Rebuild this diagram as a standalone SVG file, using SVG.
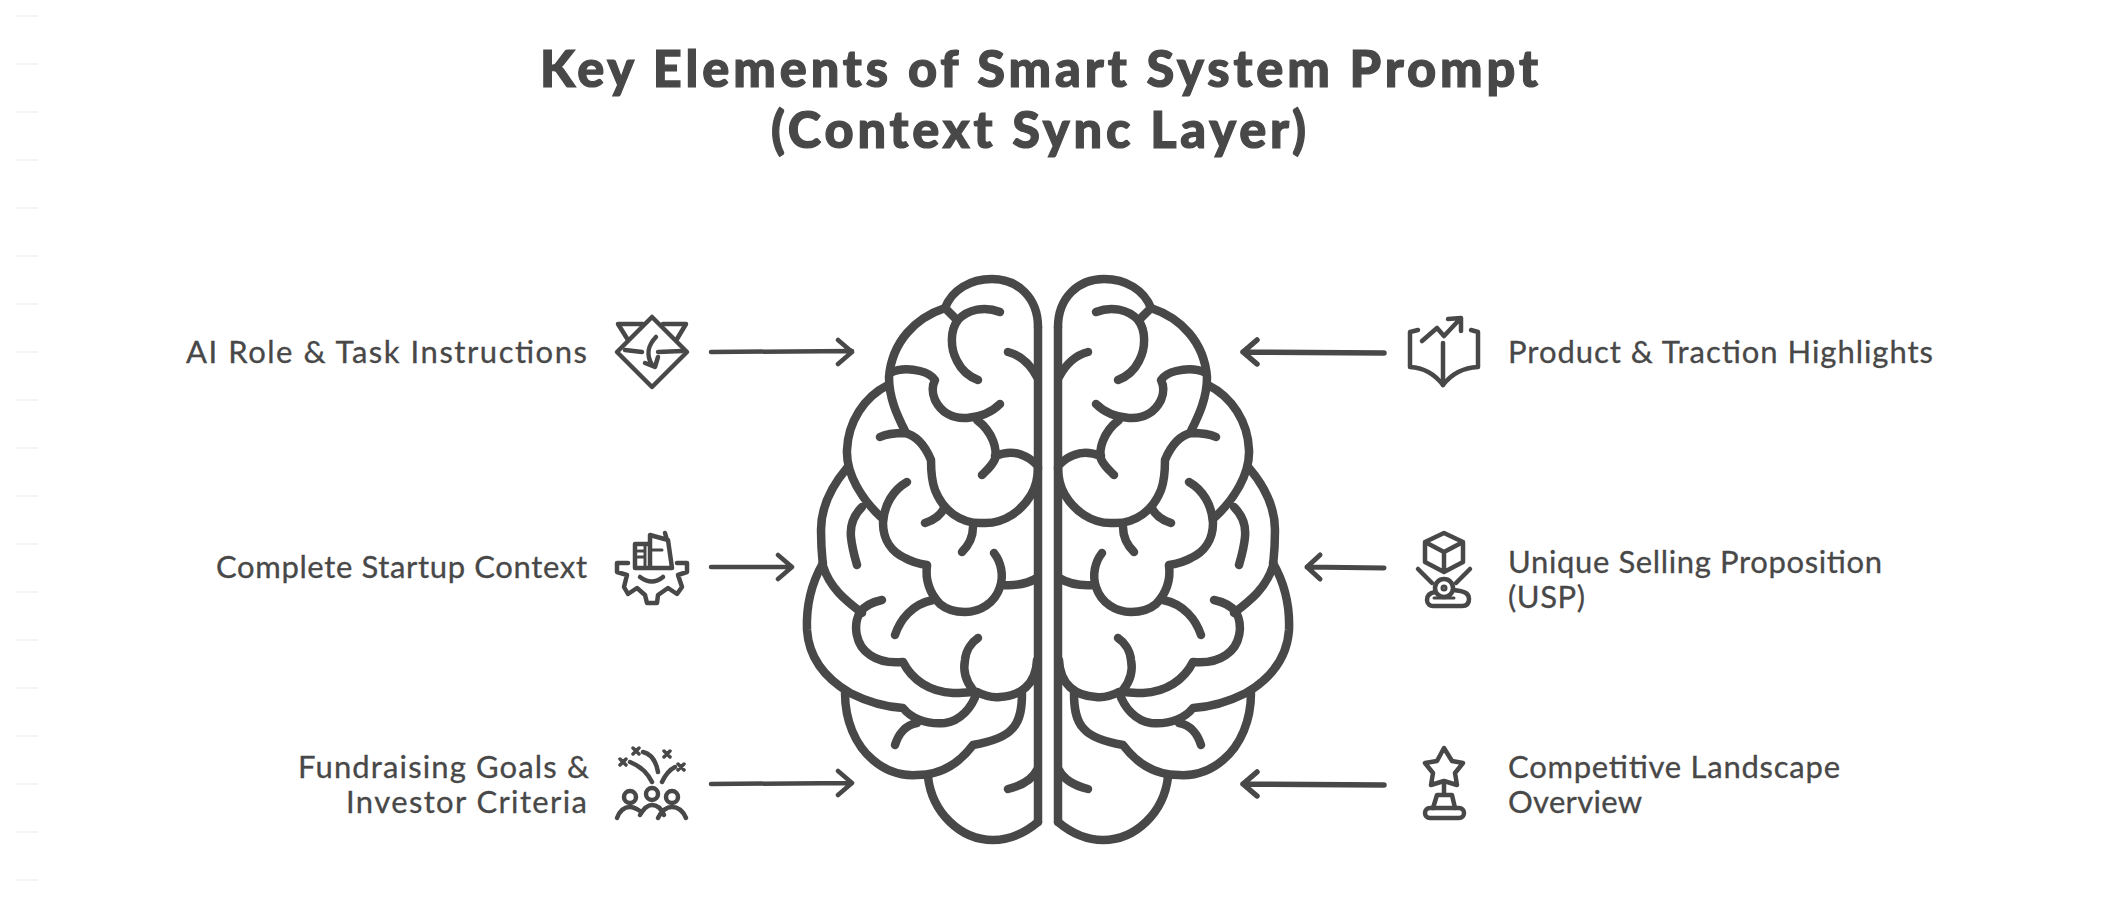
<svg xmlns="http://www.w3.org/2000/svg" width="2128" height="924" viewBox="0 0 2128 924">
<style>
.t{font-family:"Lato","Noto Sans",sans-serif;fill:#484848}
.title{font-size:50.5px;font-weight:900;stroke:#484848;stroke-width:1.2}
.lab{font-size:31px;stroke:#484848;stroke-width:.3}
.s{fill:none;stroke:#484848;stroke-linecap:round;stroke-linejoin:round}
.b{stroke-width:8.5}
.a{stroke-width:4.5}
.i{stroke-width:4.5}
.tick{fill:#f4f4f4}
</style>
<defs>
<g id="hemi" class="s b">
<path d="M1038 327C1038 298 1018 279 992 279C970 279 952 290 945 308C915 318 892 342 889 377C889 398 897 415 905 431"/>
<path d="M945 308L957 320"/>
<path d="M888 385C864 397 848 422 847 450C846 474 862 500 882 518"/>
<path d="M847 468C830 488 821 508 821 530C821 548 822 556 823 566C830 588 845 600 862 613"/>
<path d="M823 563C811 584 806 606 807 630C809 660 828 680 850 693C868 702 885 707 903 708C910 717 925 725 945 723C960 721 972 708 977 692"/>
<path d="M917 723C905 725 898 735 895 745"/>
<path d="M845 693C845 720 855 745 873 760C887 772 902 776 917 775C940 775 958 765 973 745C990 742 1005 737 1012 729C1021 720 1022 706 1022 693"/>
<path d="M928 777C932 812 960 840 993 840C1012 840 1026 832 1038 822"/>
<path d="M1038 327V822"/>
<path d="M1008 789C1020 786 1032 780 1037 770"/>
<path d="M860 612C853 625 855 645 870 655C880 662 892 663 903 662C912 680 930 692 953 693C962 693 970 692 977 692C985 696 992 698 1000 697C1020 696 1036 685 1037 660"/>
<path d="M882 600C872 602 865 606 860 612"/>
<path d="M973 690C965 680 963 670 965 660C966 650 972 642 978 638"/>
<path d="M895 635C900 620 912 604 933 600"/>
<path d="M927 566C925 580 930 594 940 604C947 610 956 612 965 612C980 612 995 603 1000 587C1004 575 1001 562 994 553"/>
<path d="M1002 585C1015 586 1027 584 1037 578"/>
<path d="M907 482C893 490 884 505 883 523C883 540 892 552 905 558C912 562 920 564 927 565"/>
<path d="M862 507C852 517 850 527 851 537C852 548 855 558 857 565"/>
<path d="M880 437C888 433 897 433 905 433C918 436 926 448 931 460C931 470 932 482 935 490C943 510 960 524 983 523C1005 524 1022 510 1031 495C1037 485 1038 475 1038 467"/>
<path d="M925 523C934 520 941 515 944 508"/>
<path d="M962 552C969 545 973 537 973 527"/>
<path d="M982 475C987 470 992 466 995 459C997 450 994 433 977 420"/>
<path d="M995 456C1005 452 1015 452 1022 455C1028 457 1033 461 1037 465"/>
<path d="M890 373C900 368 912 369 920 371C928 373 933 377 935 380C932 386 932 393 935 400C941 412 952 419 967 418C980 417 992 412 1000 404"/>
<path d="M1000 312C985 306 968 309 958 320C950 330 950 348 957 361C962 371 970 377 978 380"/>
<path d="M1008 352C1020 355 1030 364 1037 377"/>
</g>
</defs>
<rect width="2128" height="924" fill="#ffffff"/>
<g id="ticks">
<rect class="tick" x="16" y="15" width="22" height="2"/><rect class="tick" x="16" y="63" width="22" height="2"/><rect class="tick" x="16" y="111" width="22" height="2"/><rect class="tick" x="16" y="159" width="22" height="2"/><rect class="tick" x="16" y="207" width="22" height="2"/><rect class="tick" x="16" y="255" width="22" height="2"/><rect class="tick" x="16" y="303" width="22" height="2"/><rect class="tick" x="16" y="351" width="22" height="2"/><rect class="tick" x="16" y="399" width="22" height="2"/><rect class="tick" x="16" y="447" width="22" height="2"/><rect class="tick" x="16" y="495" width="22" height="2"/><rect class="tick" x="16" y="543" width="22" height="2"/><rect class="tick" x="16" y="591" width="22" height="2"/><rect class="tick" x="16" y="639" width="22" height="2"/><rect class="tick" x="16" y="687" width="22" height="2"/><rect class="tick" x="16" y="735" width="22" height="2"/><rect class="tick" x="16" y="783" width="22" height="2"/><rect class="tick" x="16" y="831" width="22" height="2"/><rect class="tick" x="16" y="879" width="22" height="2"/>
</g>
<g id="title">
<text class="t title" x="540" y="87" textLength="998" lengthAdjust="spacing">Key Elements of Smart System Prompt</text>
<text class="t title" x="771" y="148" textLength="535" lengthAdjust="spacing">(Context Sync Layer)</text>
</g>
<g id="brain">
<use href="#hemi"/>
<use href="#hemi" transform="translate(2096 0) scale(-1 1)"/>
</g>
<g id="connectors" class="s">
<path class="a" d="M711 352L852 351M838 340L852 352L838 364"/>
<path class="a" d="M711 567L792 567M778 555L792 567L778 579"/>
<path class="a" d="M711 784L852 783M838 771L852 783L838 795"/>
<path stroke-width="5.5" d="M1384 353L1243 352M1257 340L1243 352L1257 364"/>
<path stroke-width="5" d="M1384 568L1307 567M1320 555L1307 567L1320 579"/>
<path stroke-width="5.5" d="M1384 785L1243 784M1257 772L1243 784L1257 796"/>
</g>
<g id="node-ai-role">
<text class="t lab" x="186" y="363" textLength="401" lengthAdjust="spacing">AI Role &amp; Task Instructions</text>
<g class="s i">
<path d="M652 317L687 352L652 387L617 352Z"/>
<path d="M643 324H618L628 340M663 324H686L677 339"/>
<path d="M625 350L642 352M658 352L682 351"/>
<path d="M656 337C648 345 646 355 652 365M645 363L655 367L658 357"/>
</g>
</g>
<g id="node-startup-context">
<text class="t lab" x="216" y="578" textLength="371" lengthAdjust="spacing">Complete Startup Context</text>
<g class="s i">
<path d="M628 563H617V572L627 575L624 587L628 594L637 588L645 595L647 603H657L658 595L668 588L677 594L682 587L678 575L687 572V563H677"/>
<path d="M640 577Q652 586 663 577"/>
<path d="M650 544H635V568H672L668 540L650 535V568M665 533L667 540"/>
<path d="M645 545V567M638 551H645M638 557H645M652 550H662" stroke-width="3"/>
</g>
</g>
<g id="node-fundraising">
<text class="t lab" x="298" y="778" textLength="291" lengthAdjust="spacing">Fundraising Goals &amp;</text>
<text class="t lab" x="346" y="813" textLength="241" lengthAdjust="spacing">Investor Criteria</text>
<g class="s i">
<circle cx="630" cy="797" r="6"/><circle cx="652" cy="794" r="6"/><circle cx="672" cy="797" r="6"/>
<path d="M617 818C620 810 625 807 630 807C634 807 637 809 640 811M640 815C644 808 648 805 652 805C657 805 661 808 664 815M658 818C662 810 667 807 672 807C678 807 683 811 686 818"/>
<path d="M630 762Q645 768 652 782M643 752Q655 755 658 772M662 782Q667 771 675 767"/>
<path d="M620 759L626 765M626 759L620 765M633 748L639 754M639 748L633 754M664 751L670 757M670 751L664 757M678 764L684 770M684 764L678 770" stroke-width="3.5"/>
</g>
</g>
<g id="node-product">
<text class="t lab" x="1508" y="363" textLength="425" lengthAdjust="spacing">Product &amp; Traction Highlights</text>
<g class="s i">
<path d="M1418 330L1410 332V367Q1430 368 1443 385Q1456 368 1478 367V332L1471 330"/>
<path d="M1443 343V385"/>
<path d="M1422 341L1437 328L1444 336L1460 319M1448 319L1461 318V331"/>
</g>
</g>
<g id="node-usp">
<text class="t lab" x="1508" y="573" textLength="374" lengthAdjust="spacing">Unique Selling Proposition</text>
<text class="t lab" x="1508" y="608" textLength="77" lengthAdjust="spacing">(USP)</text>
<g class="s i">
<path d="M1444 533L1463 542V562L1444 572L1425 562V542ZM1425 542L1444 552L1463 542M1444 552V572"/>
<path d="M1418 569L1432 583M1470 569L1456 583"/>
<circle cx="1444" cy="588" r="9"/><circle cx="1444" cy="588" r="2" stroke-width="3"/>
<path d="M1435 592C1428 593 1427 597 1427 600C1427 604 1430 606 1433 606H1462C1467 606 1469 603 1469 599C1469 594 1466 591 1453 590"/>
<path d="M1434 598H1454" stroke-width="3"/>
</g>
</g>
<g id="node-competitive">
<text class="t lab" x="1508" y="778" textLength="332" lengthAdjust="spacing">Competitive Landscape</text>
<text class="t lab" x="1508" y="813" textLength="134" lengthAdjust="spacing">Overview</text>
<g class="s i">
<path d="M1444 748L1452 761L1463 763L1455 773L1457 785L1444 781L1431 785L1433 773L1425 763L1437 761Z"/>
<path d="M1444 782V793M1433 808L1437 795H1452L1455 808"/>
<rect x="1425" y="808" width="39" height="10" rx="5"/>
</g>
</g>
</svg>
